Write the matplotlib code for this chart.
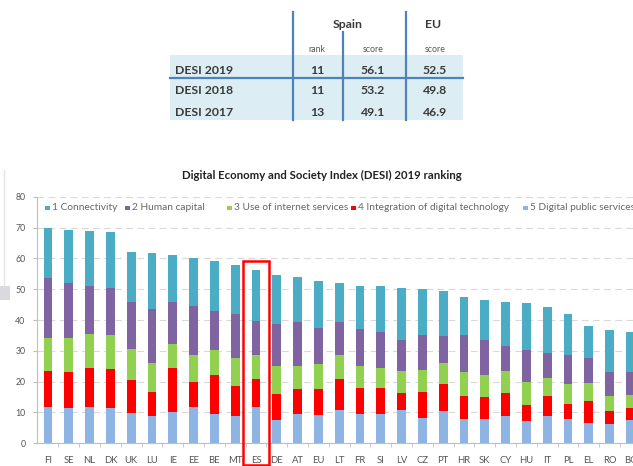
import numpy as np
import matplotlib.pyplot as plt
from matplotlib.patches import Rectangle

# Dados do ranking DESI 2019
paises = ['FI', 'SE', 'NL', 'DK', 'UK', 'LU', 'IE', 'EE', 'BE', 'MT', 'ES', 'DE', 'AT', 'EU', 'LT',
          'FR', 'SI', 'LV', 'CZ', 'PT', 'HR', 'SK', 'CY', 'HU', 'IT', 'PL', 'EL', 'RO', 'BG']

servicos_publicos = [11.7, 11.4, 11.7, 11.4, 9.9, 8.8, 10.3, 11.7, 9.6, 8.8, 11.7, 7.6, 9.6, 9.2, 10.9,
                     9.5, 9.5, 10.9, 8.2, 10.5, 7.8, 7.8, 8.7, 7.3, 8.7, 7.8, 6.7, 6.2, 7.4]
integracao = [11.9, 11.8, 12.6, 12.6, 10.6, 7.9, 14.0, 8.1, 12.6, 9.9, 9.0, 8.5, 8.0, 8.5, 10.1,
              8.4, 8.4, 5.4, 8.4, 8.8, 7.7, 7.1, 7.6, 5.2, 6.5, 4.9, 7.1, 4.3, 4.0]
uso_internet = [10.4, 10.8, 11.2, 11.0, 10.0, 9.2, 8.0, 9.0, 8.2, 9.1, 7.9, 9.1, 7.6, 8.0, 7.8,
                7.3, 6.6, 7.3, 7.3, 6.6, 7.5, 7.2, 7.1, 7.3, 6.0, 6.6, 5.8, 4.7, 4.4]
capital_humano = [19.5, 17.9, 15.4, 15.4, 15.4, 17.8, 13.4, 15.9, 12.6, 14.0, 11.1, 13.6, 14.1, 11.7, 10.5,
                  11.8, 11.7, 9.9, 11.2, 8.9, 12.0, 11.3, 8.3, 10.4, 8.1, 9.2, 8.1, 7.8, 7.4]
conectividade = [16.3, 17.4, 18.1, 18.3, 16.0, 18.0, 15.5, 15.4, 16.3, 16.2, 16.4, 15.8, 14.6, 15.2, 12.8,
                 14.1, 14.9, 16.8, 14.9, 14.5, 12.6, 13.1, 14.0, 15.2, 14.9, 13.3, 10.3, 13.6, 13.0]

series_nomes = ['1 Connectivity', '2 Human capital', '3 Use of internet services',
                '4 Integration of digital technology', '5 Digital public services']
cores = ['#4BACC6', '#8064A2', '#92D050', '#FF0000', '#8DB4E2']

# Tabela Espanha x UE
linhas_tabela = ['DESI 2019', 'DESI 2018', 'DESI 2017']
rank_es = [11, 11, 13]
score_es = [56.1, 53.2, 49.1]
score_eu = [52.5, 49.8, 46.9]

destaque = 'ES'

plt.rcParams['font.family'] = ['Lato', 'DejaVu Sans']
fig = plt.figure(figsize=(6.33, 4.66), dpi=100)

# Camada em pixels para a tabela e a legenda
ov = fig.add_axes([0, 0, 1, 1], zorder=0)
ov.set_xlim(0, 633)
ov.set_ylim(466, 0)
ov.axis('off')

# restos da captura de tela na borda esquerda
ov.add_patch(Rectangle((0, 286), 10, 14, color='#D9D9DE', lw=0))
ov.plot([3.5, 3.5], [170, 286], color='#E4E4E8', lw=1)

# tabela
azul = '#4F81BD'
ov.add_patch(Rectangle((170, 55), 293, 65, color='#DCEEF4', lw=0))
ov.plot([292.7, 292.7], [12, 120], color=azul, lw=1.6)
ov.plot([343, 343], [32, 120], color=azul, lw=1.6)
ov.plot([406, 406], [12, 120], color=azul, lw=1.6)
ov.plot([170, 463], [78, 78], color=azul, lw=1.6)
txt = '#3A3A3A'
fs_tab = 8.8
ov.text(348, 25, 'Spain', ha='center', va='center', fontsize=fs_tab, fontweight='bold', color=txt)
ov.text(433, 25, 'EU', ha='center', va='center', fontsize=fs_tab, fontweight='bold', color=txt)
for xc, s in zip([317, 373, 435], ['rank', 'score', 'score']):
    ov.text(xc, 49, s, ha='center', va='center', fontsize=6.3, color='#555555')
for i, nome in enumerate(linhas_tabela):
    yc = [70, 91, 112][i]
    ov.text(175, yc, nome, ha='left', va='center', fontsize=fs_tab, fontweight='bold', color=txt)
    ov.text(317, yc, str(rank_es[i]), ha='center', va='center', fontsize=fs_tab, fontweight='bold', color=txt)
    ov.text(373, yc, f'{score_es[i]:.1f}', ha='center', va='center', fontsize=fs_tab, fontweight='bold', color=txt)
    ov.text(435, yc, f'{score_eu[i]:.1f}', ha='center', va='center', fontsize=fs_tab, fontweight='bold', color=txt)

# titulo
ov.text(322, 175, 'Digital Economy and Society Index (DESI) 2019 ranking', ha='center', va='center',
        fontsize=8.2, fontweight='bold', color='#222222')

# legenda
for xm, nome, c in zip([45, 125, 227, 351, 523], series_nomes, cores):
    ov.add_patch(Rectangle((xm, 205.5), 4.5, 4.5, color=c, lw=0))
    ov.text(xm + 7.5, 208, nome, ha='left', va='center', fontsize=7.3, color='#666666')

# Grafico de barras empilhadas
px = 20.8
x0 = 36.5
ax = fig.add_axes([x0 / 633, (466 - 443.3) / 466, 605 / 633, (443.3 - 196.7) / 466], zorder=1)
ax.patch.set_alpha(0)
x = np.arange(len(paises))
xmin = -(48 - x0) / px
ax.set_xlim(xmin, xmin + 605 / px)
ax.set_ylim(0, 80)

camadas = [servicos_publicos, integracao, uso_internet, capital_humano, conectividade]
cores_camadas = [cores[4], cores[3], cores[2], cores[1], cores[0]]
base = np.zeros(len(paises))
for valores, c in zip(camadas, cores_camadas):
    ax.bar(x, valores, width=0.43, bottom=base, color=c, zorder=2)
    base = base + np.array(valores)

ax.set_yticks(np.arange(0, 81, 10))
ax.yaxis.grid(True, linestyle=(0, (6, 4)), color='#D9D9D9', lw=0.8, zorder=0)
ax.set_xticks(x)
ax.set_xticklabels(paises)
ax.set_xticks(x[:-1] + 0.5, minor=True)
ax.tick_params(axis='x', which='major', length=0, labelsize=6.8, labelcolor='#555555', pad=9)
ax.tick_params(axis='x', which='minor', length=3, color='#BFBFBF')
ax.tick_params(axis='y', length=3, color='#BFBFBF', labelsize=6.3, labelcolor='#555555', pad=5)
for lado in ['top', 'right']:
    ax.spines[lado].set_visible(False)
ax.spines['left'].set_color('#BFBFBF')
ax.spines['bottom'].set_color('#BFBFBF')

# destaque da Espanha
i_es = paises.index(destaque)
ax.add_patch(Rectangle((i_es - 0.62, -7.1), 1.24, 66.1, fill=False, edgecolor='#FF0000',
                       lw=1.8, clip_on=False, zorder=5))

plt.savefig('out.png', dpi=100)
